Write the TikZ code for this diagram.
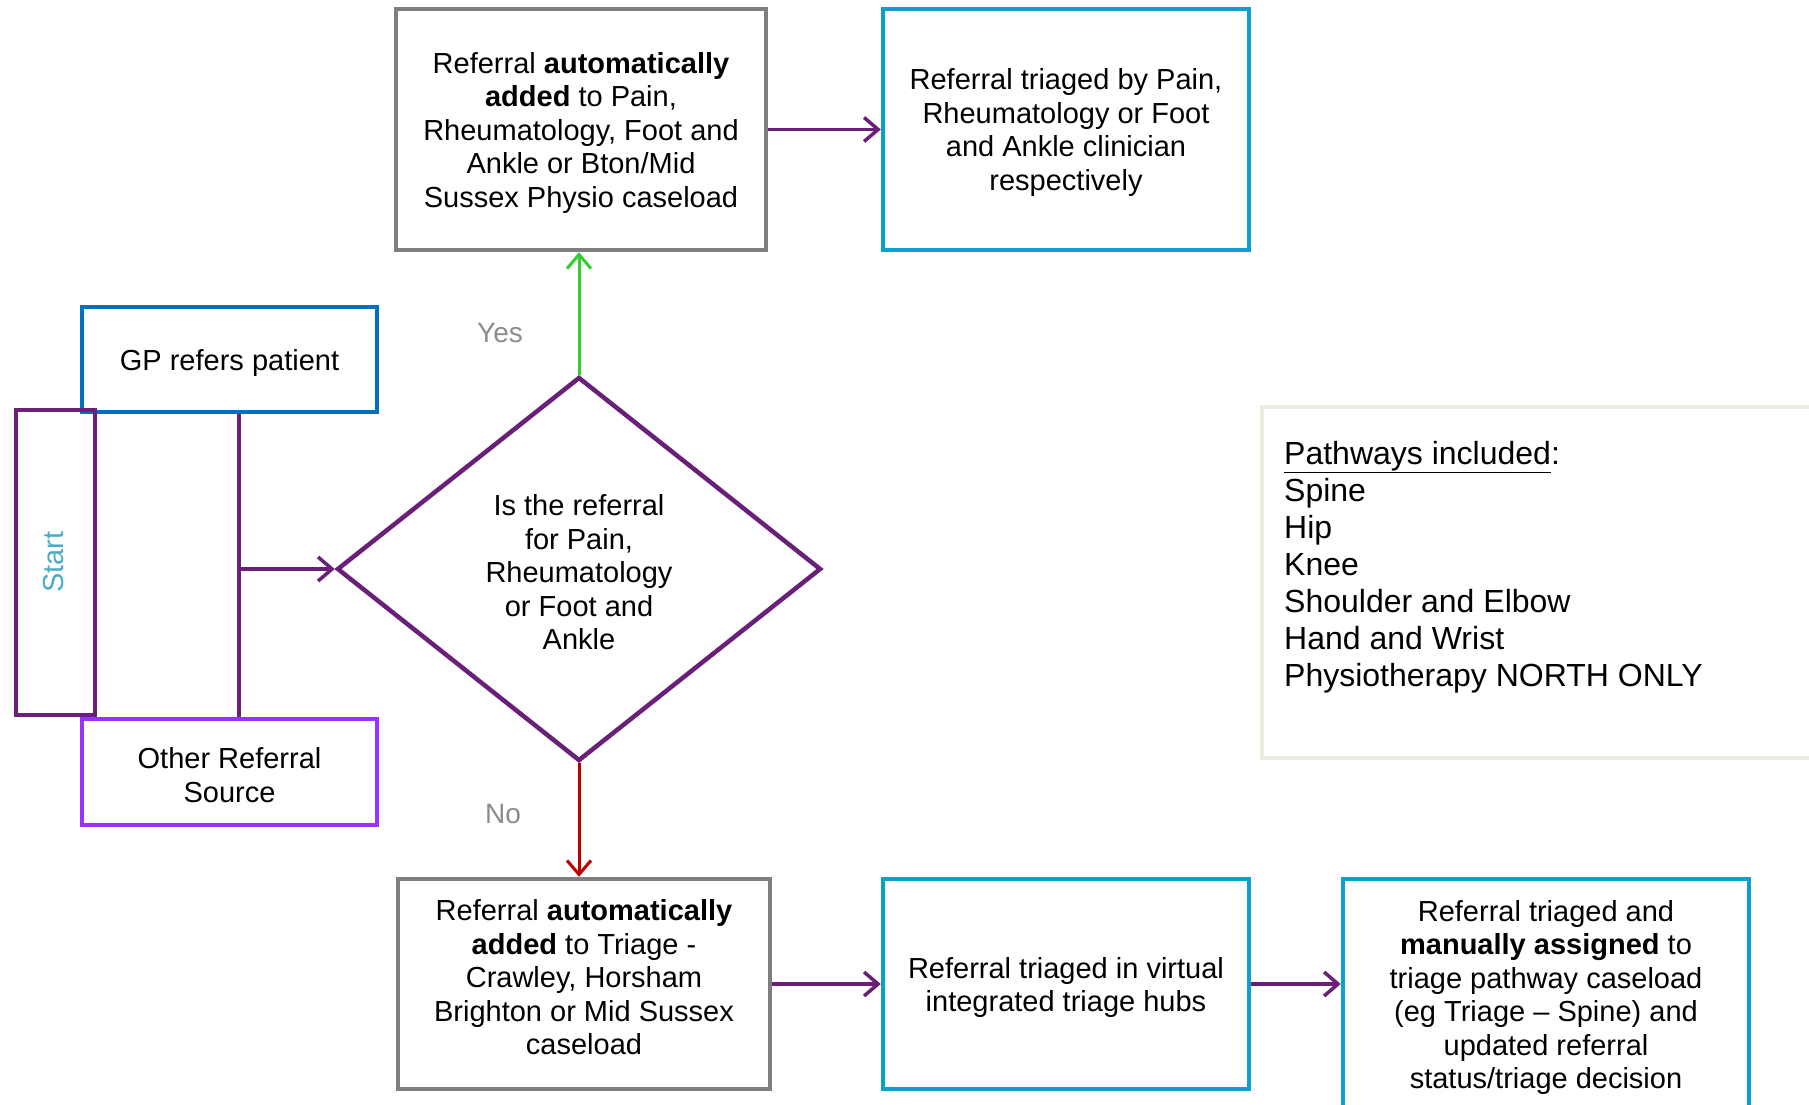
\documentclass[tikz,border=0pt]{standalone}
\usepackage{fontspec}
\setmainfont{Liberation Sans}
\usetikzlibrary{shapes.geometric,arrows.meta}
\definecolor{graybox}{HTML}{7F7F7F}
\definecolor{bluebox}{HTML}{0E9FD2}
\definecolor{gpblue}{HTML}{0070C0}
\definecolor{othpurple}{HTML}{9933FF}
\definecolor{darkpurple}{HTML}{6A1F78}
\definecolor{yesgreen}{HTML}{33CC33}
\definecolor{nored}{HTML}{C00000}
\definecolor{beigeline}{HTML}{EEECE1}
\definecolor{labelgray}{HTML}{8C8C8C}
\definecolor{startteal}{HTML}{4BACC6}
\newcommand{\myul}[1]{\underline{#1}}
\begin{document}
\begin{tikzpicture}[x=1pt,y=-1pt,
  box/.style={draw, line width=4.5pt, fill=white, align=center, inner sep=0pt,
    font=\fontsize{29}{33.5}\selectfont},
  conn/.style={line width=3.5pt, draw=darkpurple},
  arr/.style={-{Straight Barb[length=14pt,width=24pt]}},
  lbl/.style={text=labelgray, font=\fontsize{28}{33}\selectfont}
]
\clip (0,0) rectangle (1809,1104);
\fill[white] (0,0) rectangle (1809,1104);

% top row
\node[box, draw=graybox, minimum width=370pt, minimum height=241pt] (tg) at (581,129.5)
  {\\[-6pt]Referral \textbf{automatically}\\\textbf{added} to Pain,\\Rheumatology, Foot and\\Ankle or Bton/Mid\\Sussex Physio caseload};
\node[box, draw=bluebox, minimum width=366pt, minimum height=241pt] (tb) at (1066,129.5)
  {\\[-6pt]Referral triaged by Pain,\\Rheumatology or Foot\\and Ankle clinician\\respectively};

% left side
\node[box, draw=gpblue, minimum width=295pt, minimum height=105pt] (gp) at (229.5,359.5)
  {\\[-6pt]GP refers patient};
\node[box, draw=othpurple, minimum width=295pt, minimum height=106pt] (oth) at (229.5,772)
  {\\[-6pt]Other Referral\\Source};
\node[box, draw=darkpurple, fill=none, minimum width=79pt, minimum height=305pt] (start) at (55.5,562.5) {};
\node[rotate=90, text=startteal, font=\fontsize{29}{33}\selectfont] (starttxt) at (54,562) {Start};

% decision
\node[box, draw=darkpurple, diamond, aspect=1.26, minimum width=484pt, minimum height=384pt] (dia) at (579,569)
  {\\[-6pt]Is the referral\\for Pain,\\Rheumatology\\or Foot and\\Ankle};

% bottom row
\node[box, draw=graybox, minimum width=372pt, minimum height=210pt] (bg) at (584,984)
  {Referral \textbf{automatically}\\\textbf{added} to Triage -\\Crawley, Horsham\\Brighton or Mid Sussex\\caseload\\[-20pt]};
\node[box, draw=bluebox, minimum width=366pt, minimum height=210pt] (bm) at (1066,984)
  {\\[-6pt]Referral triaged in virtual\\integrated triage hubs};
\node[box, draw=bluebox, minimum width=406pt, minimum height=230pt] (br) at (1546,994)
  {\\[-6pt]Referral triaged and\\\textbf{manually assigned} to\\triage pathway caseload\\(eg Triage – Spine) and\\updated referral\\status/triage decision};

% pathways note
\node[draw=beigeline, line width=4.5pt, fill=white, minimum width=600pt, minimum height=351pt] (pw) at (1562,582.5) {};
\node[anchor=west, align=left, inner sep=0pt, font=\fontsize{32}{37}\selectfont] (pwtxt) at (1284,567)
  {\myul{Pathways included}:\\Spine\\Hip\\Knee\\Shoulder and Elbow\\Hand and Wrist\\Physiotherapy NORTH ONLY};

% labels
\node[lbl] (yes) at (500,333) {Yes};
\node[lbl] (no) at (503,814) {No};

% connectors
\coordinate (j) at (239,569);
\draw[conn] (gp.south -| j) -- (j);
\draw[conn] (oth.north -| j) -- (j);
\draw[conn, arr] (j) -- (dia.west);
\draw[line width=3pt, draw=yesgreen, arr] (dia.north) -- (dia.north |- tg.south);
\draw[line width=3pt, draw=nored, arr] (dia.south) -- (dia.south |- bg.north);
\draw[conn, arr] (tg.east) -- (tb.west);
\draw[conn, arr] (bg.east) -- (bm.west);
\draw[conn, arr] (bm.east) -- (bm.east -| br.west);
\end{tikzpicture}
\end{document}
